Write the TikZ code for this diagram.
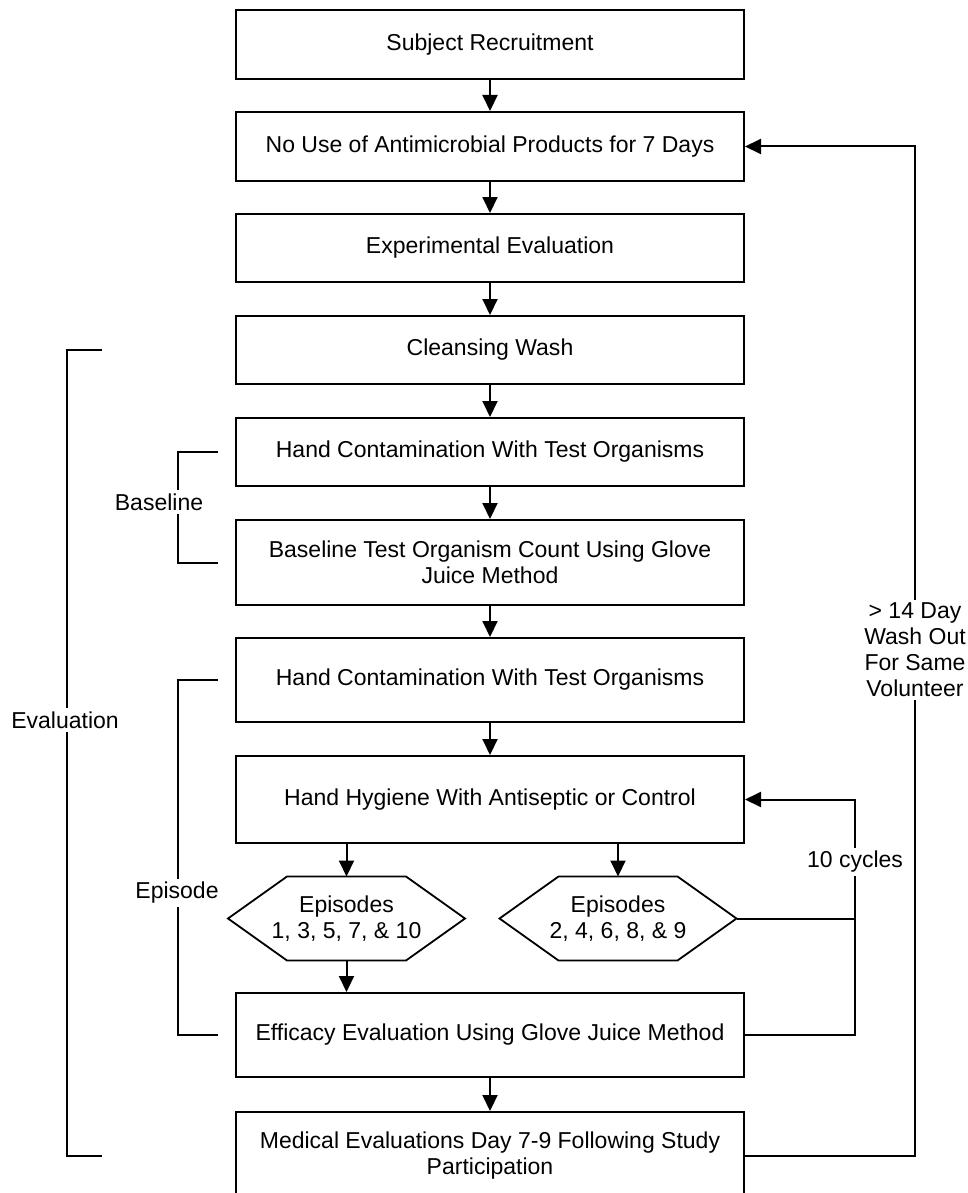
\documentclass[tikz,border=0pt]{standalone}
\usepackage{fontspec}
\setmainfont{Liberation Sans}
\usetikzlibrary{arrows.meta,calc}
\begin{document}
\begin{tikzpicture}[x=1pt,y=-1pt,
  every node/.style={font=\fontsize{23}{26}\selectfont, inner sep=0pt},
  box/.style={draw, line width=2pt, minimum width=508pt, align=center},
  lbl/.style={align=center, inner sep=3pt},
  conn/.style={line width=2pt},
  arr/.style={conn, -{Triangle[length=16pt,width=15pt]}},
  hexline/.style={line width=1.8pt, line join=miter}
]
\useasboundingbox (0,0) rectangle (968,1193);

% main boxes
\node[box, minimum height=69pt] (b1) at (490,44.5) {Subject Recruitment};
\node[box, minimum height=69pt] (b2) at (490,146.5) {No Use of Antimicrobial Products for 7 Days};
\node[box, minimum height=68pt] (b3) at (490,248) {Experimental Evaluation};
\node[box, minimum height=68pt] (b4) at (490,350) {Cleansing Wash};
\node[box, minimum height=68pt] (b5) at (490,452) {Hand Contamination With Test Organisms};
\node[box, minimum height=85pt] (b6) at (490,562.5) {Baseline Test Organism Count Using Glove\\Juice Method};
\node[box, minimum height=84pt] (b7) at (490,680) {Hand Contamination With Test Organisms};
\node[box, minimum height=87pt] (b8) at (490,799.5) {Hand Hygiene With Antiseptic or Control};
\node[box, minimum height=84pt] (b9) at (490,1035) {Efficacy Evaluation Using Glove Juice Method};
\node[box, minimum height=88pt] (b10) at (490,1156) {Medical Evaluations Day 7-9 Following Study\\Participation};

% hexagons (outer half-width 118.5, inner half-width 59.5, half-height 42)
\node[align=center] (h1) at (346.5,918.5) {Episodes\\1, 3, 5, 7, \& 10};
\node[align=center] (h2) at (618,918.5) {Episodes\\2, 4, 6, 8, \& 9};
\foreach \h in {h1,h2}{
  \coordinate (\h nw) at ($(\h.center)+(-59.5,-42)$);
  \coordinate (\h ne) at ($(\h.center)+(59.5,-42)$);
  \coordinate (\h r)  at ($(\h.center)+(118.5,0)$);
  \coordinate (\h se) at ($(\h.center)+(59.5,42)$);
  \coordinate (\h sw) at ($(\h.center)+(-59.5,42)$);
  \coordinate (\h l)  at ($(\h.center)+(-118.5,0)$);
  \coordinate (\h t)  at ($(\h.center)+(0,-42)$);
  \coordinate (\h b)  at ($(\h.center)+(0,42)$);
  \draw[hexline] (\h nw) -- (\h ne) -- (\h r) -- (\h se) -- (\h sw) -- (\h l) -- cycle;
}

% vertical arrows
\draw[arr] (b1.south) -- (b2.north);
\draw[arr] (b2.south) -- (b3.north);
\draw[arr] (b3.south) -- (b4.north);
\draw[arr] (b4.south) -- (b5.north);
\draw[arr] (b5.south) -- (b6.north);
\draw[arr] (b6.south) -- (b7.north);
\draw[arr] (b7.south) -- (b8.north);
\draw[arr] (b8.south -| h1t) -- (h1t);
\draw[arr] (b8.south -| h2t) -- (h2t);
\draw[arr] (h1b) -- (h1b |- b9.north);
\draw[arr] (b9.south) -- (b10.north);

% 10 cycles loop
\coordinate (lp) at (855,0);
\node[lbl] (cyc) at (855,862) {10 cycles};
\draw[conn] (b9.east) -| (cyc.south);
\draw[conn] (h2r) -- (h2r -| lp);
\draw[arr] (cyc.north) |- (b8.east);

% wash-out feedback
\node[lbl] (wo) at (915,650) {> 14 Day\\Wash Out\\For Same\\Volunteer};
\draw[conn] (b10.east) -| (wo.south);
\draw[arr] (wo.north) |- (b2.east);

% Evaluation bracket
\coordinate (evx) at (67,0);
\coordinate (evt) at (102,0);
\node[lbl] (ev) at (65,720) {Evaluation};
\draw[conn] (evt |- b4.west) -- (evx |- b4.west) -- (evx |- ev.north);
\draw[conn] (evx |- ev.south) -- (evx |- b10.west) -- (evt |- b10.west);

% Baseline bracket
\coordinate (bx) at (178,0);
\coordinate (bt) at (218,0);
\node[lbl] (bl) at (159,502) {Baseline};
\draw[conn] (bt |- b5.west) -- (bx |- b5.west) -- (bx |- bl.north);
\draw[conn] (bx |- bl.south) -- (bx |- b6.west) -- (bt |- b6.west);

% Episode bracket
\node[lbl] (ep) at (177,893) {Episode};
\draw[conn] (bt |- b7.west) -- (bx |- b7.west) -- (bx |- ep.north);
\draw[conn] (bx |- ep.south) -- (bx |- b9.west) -- (bt |- b9.west);
\end{tikzpicture}
\end{document}
